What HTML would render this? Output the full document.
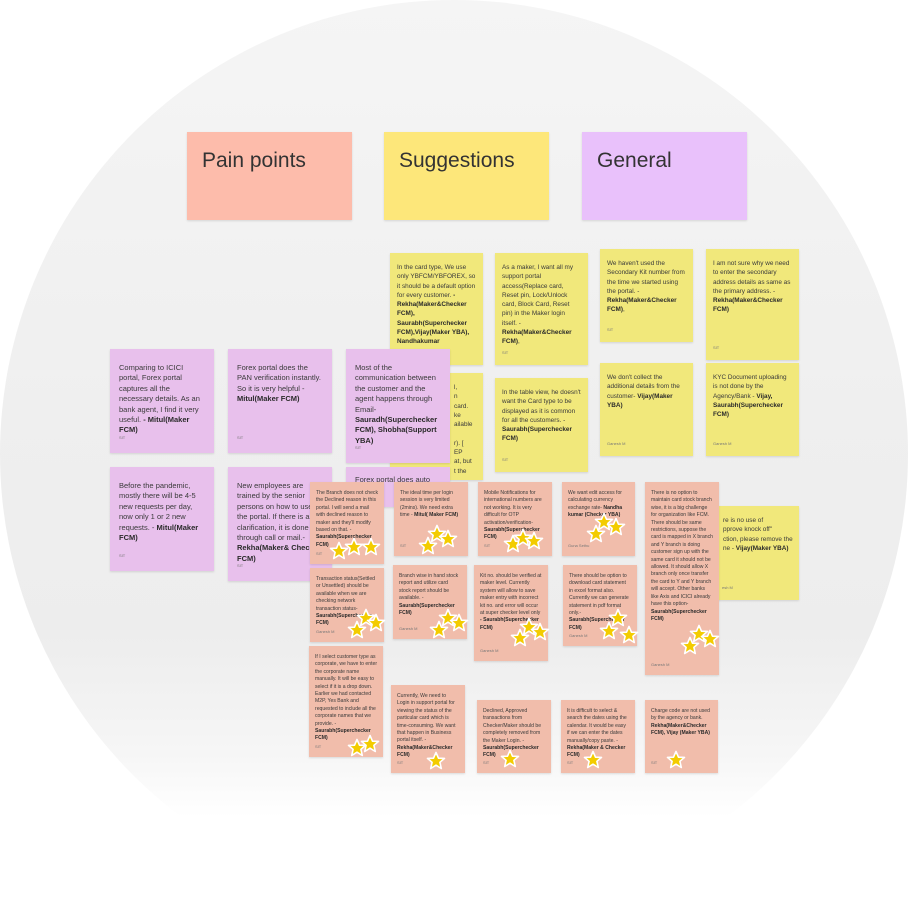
<!DOCTYPE html>
<html><head><meta charset="utf-8"><style>
html,body{margin:0;padding:0;width:908px;height:908px;overflow:hidden;background:#fff;font-family:"Liberation Sans",sans-serif;}
#circ{position:absolute;left:0;top:0;width:908px;height:908px;border-radius:50%;background:linear-gradient(#f5f5f5 0%,#efefef 45%,#ededed 70%,#f6f6f6 83%,#fff 90%);}
.c{position:absolute;box-sizing:border-box;color:#3a3a3a;box-shadow:0 1px 2px rgba(0,0,0,0.12);overflow:hidden;}
.c b{color:#2a2a2a;}
.h{background:#fdbcab;font-size:21px;padding:17px 15px;color:#333;}
.y{background:#f1e87b;font-size:6.4px;line-height:9.3px;padding:10px 7px 0 7px;}
.p{background:#e8c0ec;font-size:7.5px;line-height:10.4px;padding:14px 9px 0 9px;}
.s{background:#f1bdab;font-size:5.1px;line-height:7.4px;padding:8px 6px 0 6px;}
.f{position:absolute;left:7px;bottom:8px;font-size:4px;color:#777;}
.p .f{left:9px;bottom:10px;}
.s .f{left:6px;bottom:7px;}
</style></head><body>
<div id="circ"></div>

<div class="c h" style="left:187px;top:132px;width:165px;height:88px;">Pain points</div>
<div class="c h" style="left:384px;top:132px;width:165px;height:88px;background:#fde77a;">Suggestions</div>
<div class="c h" style="left:582px;top:132px;width:165px;height:88px;background:#e9c1fb;">General</div>

<!-- yellow -->
<div class="c y" style="left:390px;top:373px;width:93px;height:107px;padding-left:64px;white-space:nowrap;">l,<br>n<br>card.<br>ke<br>ailable<br><br>r). [<br>EP<br>at, but<br>t the</div>
<div class="c y" style="left:390px;top:253px;width:93px;height:112px;">In the card type, We use only YBFCM/YBFOREX, so it should be a default option for every customer. <b>- Rekha(Maker&amp;Checker FCM), Saurabh(Superchecker FCM),Vijay(Maker YBA), Nandhakumar</b></div>
<div class="c y" style="left:495px;top:253px;width:93px;height:112px;">As a maker, I want all my support portal access(Replace card, Reset pin, Lock/Unlock card, Block Card, Reset pin) in the Maker login itself. - <b>Rekha(Maker&amp;Checker FCM)</b>,<span class="f">SIT</span></div>
<div class="c y" style="left:495px;top:378px;width:93px;height:94px;padding-top:10px;">In the table view, he doesn't want the Card type to be displayed as it is common for all the customers. - <b>Saurabh(Superchecker FCM)</b><span class="f">SIT</span></div>
<div class="c y" style="left:600px;top:249px;width:93px;height:93px;">We haven't used the Secondary Kit number from the time we started using the portal. - <b>Rekha(Maker&amp;Checker FCM)</b>,<span class="f">SIT</span></div>
<div class="c y" style="left:600px;top:363px;width:93px;height:93px;">We don't collect the additional details from the customer- <b>Vijay(Maker YBA)</b><span class="f">Ganesh M</span></div>
<div class="c y" style="left:706px;top:249px;width:93px;height:111px;">I am not sure why we need to enter the secondary address details as same as the primary address. - <b>Rekha(Maker&amp;Checker FCM)</b><span class="f">SIT</span></div>
<div class="c y" style="left:706px;top:363px;width:93px;height:93px;">KYC Document uploading is not done by the Agency/Bank - <b>Vijay, Saurabh(Superchecker FCM)</b><span class="f">Ganesh M</span></div>
<div class="c y" style="left:700px;top:506px;width:99px;height:94px;padding:10px 0 0 23px;white-space:nowrap;">re is no use of<br>pprove knock off"<br>ction, please remove the<br>ne - <b>Vijay(Maker YBA)</b><span class="f" style="left:22px">esh M</span></div>

<!-- lavender -->
<div class="c p" style="left:110px;top:349px;width:104px;height:104px;">Comparing to ICICI portal, Forex portal captures all the necessary details. As an bank agent, I find it very useful. <b>- Mitul(Maker FCM)</b><span class="f">SIT</span></div>
<div class="c p" style="left:228px;top:349px;width:104px;height:104px;">Forex portal does the PAN verification instantly. So it is very helpful - <b>Mitul(Maker FCM)</b><span class="f">SIT</span></div>
<div class="c p" style="left:346px;top:349px;width:104px;height:114px;">Most of the communication between the customer and the agent happens through Email- <b>Sauradh(Superchecker FCM), Shobha(Support YBA)</b><span class="f">SIT</span></div>
<div class="c p" style="left:110px;top:467px;width:104px;height:104px;">Before the pandemic, mostly there will be 4-5 new requests per day, now only 1 or 2 new requests. - <b>Mitul(Maker FCM)</b><span class="f">SIT</span></div>
<div class="c p" style="left:228px;top:467px;width:104px;height:114px;">New employees are trained by the senior persons on how to use the portal. If there is any clarification, it is done through call or mail.- <b>Rekha(Maker&amp; Checker FCM)</b><span class="f">SIT</span></div>
<div class="c p" style="left:346px;top:467px;width:104px;height:40px;padding-top:8px;">Forex portal does auto</div>

<!-- salmon -->
<div class="c s" style="left:310px;top:482px;width:74px;height:82px;">The Branch does not check the Declined reason in this portal. I will send a mail with declined reason to maker and they'll modify based on that. - <b>Saurabh(Superchecker FCM)</b><span class="f">SIT</span></div>
<div class="c s" style="left:394px;top:482px;width:74px;height:74px;">The ideal time per login session is very limited (2mins). We need extra time - <b>Mitul( Maker FCM)</b><span class="f">SIT</span></div>
<div class="c s" style="left:478px;top:482px;width:74px;height:74px;">Mobile Notifications for international numbers are not working. It is very difficult for OTP activation/verification- <b>Saurabh(Superchecker FCM)</b><span class="f">SIT</span></div>
<div class="c s" style="left:562px;top:482px;width:73px;height:74px;">We want edit access for calculating currency exchange rate- <b>Nandha kumar (Checker YBA)</b><span class="f">Guna Sethu</span></div>
<div class="c s" style="left:645px;top:482px;width:74px;height:193px;">There is no option to maintain card stock branch wise, it is a big challenge for organization like FCM. There should be same restrictions, suppose the card is mapped in X branch and Y branch is doing customer sign up with the same card it should not be allowed. It should allow X branch only once transfer the card to Y and Y branch will accept. Other banks like Axis and ICICI already have this option- <b>Saurabh(Superchecker FCM)</b><span class="f">Ganesh M</span></div>
<div class="c s" style="left:310px;top:568px;width:74px;height:74px;">Transaction status(Settled or Unsettled) should be available when we are checking network transaction status- <b>Saurabh(Superchecker FCM)</b><span class="f">Ganesh M</span></div>
<div class="c s" style="left:393px;top:565px;width:74px;height:74px;">Branch wise in hand stock report and utilize card stock report should be available. - <b>Saurabh(Superchecker FCM)</b><span class="f">Ganesh M</span></div>
<div class="c s" style="left:474px;top:565px;width:74px;height:96px;">Kit no. should be verified at maker level. Currently system will allow to save maker entry with incorrect kit no. and error will occur at super checker level only <b>- Saurabh(Superchecker FCM)</b><span class="f">Ganesh M</span></div>
<div class="c s" style="left:563px;top:565px;width:74px;height:81px;">There should be option to download card statement in excel format also. Currently we can generate statement in pdf format only.- <b>Saurabh(Superchecker FCM)</b><span class="f">Ganesh M</span></div>
<div class="c s" style="left:309px;top:646px;width:74px;height:111px;">If I select customer type as corporate, we have to enter the corporate name manually. It will be easy to select if it is a drop down. Earlier we had contacted M2P, Yes Bank and requested to include all the corporate names that we provide. - <b>Saurabh(Superchecker FCM)</b><span class="f">SIT</span></div>
<div class="c s" style="left:391px;top:685px;width:74px;height:88px;">Currently, We need to Login in support portal for viewing the status of the particular card which is time-consuming. We want that happen in Business portal itself. - <b>Rekha(Maker&amp;Checker FCM)</b><span class="f">SIT</span></div>
<div class="c s" style="left:477px;top:700px;width:74px;height:73px;">Declined, Approved transactions from Checker/Maker should be completely removed from the Maker Login. - <b>Saurabh(Superchecker FCM)</b><span class="f">SIT</span></div>
<div class="c s" style="left:561px;top:700px;width:74px;height:73px;">It is difficult to select &amp; search the dates using the calendar. It would be easy if we can enter the dates manually/copy paste. - <b>Rekha(Maker &amp; Checker FCM)</b><span class="f">SIT</span></div>
<div class="c s" style="left:645px;top:700px;width:73px;height:73px;">Charge code are not used by the agency or bank. <b>Rekha(Maker&amp;Checker FCM), Vijay (Maker YBA)</b><span class="f">SIT</span></div>

<svg width="908" height="908" style="position:absolute;left:0;top:0;">
<defs><polygon id="st" points="0,-8.5 2.5,-2.8 8.5,-2.6 3.9,1.3 5.3,7.5 0,4.2 -5.3,7.5 -3.9,1.3 -8.5,-2.6 -2.5,-2.8" fill="#f3cc00" stroke="#fff" stroke-width="1.6" stroke-linejoin="round"/></defs>
<g>
<use href="#st" x="339" y="551"/><use href="#st" x="354" y="547"/><use href="#st" x="371" y="547"/>
<use href="#st" x="428" y="546"/><use href="#st" x="437" y="534"/><use href="#st" x="448" y="539"/>
<use href="#st" x="513" y="544"/><use href="#st" x="523" y="538"/><use href="#st" x="534" y="541"/>
<use href="#st" x="596" y="534"/><use href="#st" x="604" y="522"/><use href="#st" x="616" y="527"/>
<use href="#st" x="357" y="630"/><use href="#st" x="366" y="618"/><use href="#st" x="376" y="623"/>
<use href="#st" x="439" y="630"/><use href="#st" x="448" y="618"/><use href="#st" x="459" y="623"/>
<use href="#st" x="520" y="638"/><use href="#st" x="529" y="627"/><use href="#st" x="540" y="632"/>
<use href="#st" x="609" y="631"/><use href="#st" x="618" y="618"/><use href="#st" x="629" y="635"/>
<use href="#st" x="690" y="646"/><use href="#st" x="699" y="634"/><use href="#st" x="710" y="639"/>
<use href="#st" x="357" y="748"/><use href="#st" x="370" y="744"/>
<use href="#st" x="436" y="761"/><use href="#st" x="510" y="759"/><use href="#st" x="593" y="760"/><use href="#st" x="676" y="760"/>
</g></svg>
</body></html>
